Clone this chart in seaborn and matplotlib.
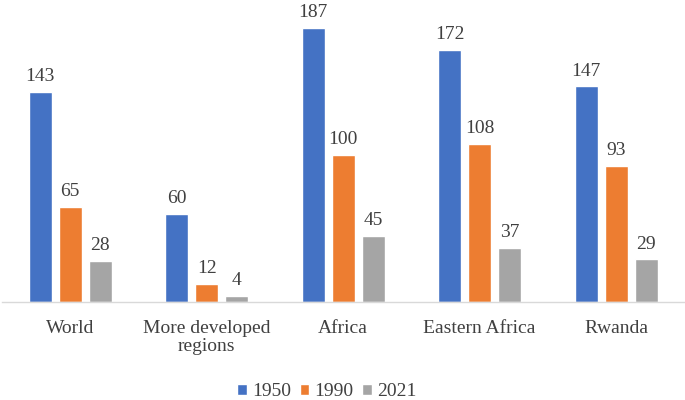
import pandas as pd
import matplotlib
matplotlib.use("Agg")
import matplotlib.pyplot as plt
import seaborn as sns

regions = ["World", "More developed\nregions", "Africa", "Eastern Africa", "Rwanda"]
years = ["1950", "1990", "2021"]
rate_1950 = [143, 60, 187, 172, 147]
rate_1990 = [65, 12, 100, 108, 93]
rate_2021 = [28, 4, 45, 37, 29]
colors = ["#4472C4", "#ED7D31", "#A5A5A5"]

df = pd.DataFrame({
    "region": regions * 3,
    "year": [y for y in years for _ in regions],
    "value": rate_1950 + rate_1990 + rate_2021,
})

sns.set_style("white")
plt.rcParams["font.family"] = ["Liberation Serif", "DejaVu Serif"]
text_color = "#404040"

fig = plt.figure(figsize=(6.85, 4.0), dpi=100)
ax = fig.add_axes([0.003, 0.245, 0.996, 0.755])

sns.barplot(data=df, x="region", y="value", hue="year", palette=colors,
            width=0.66, gap=0.23, ax=ax, legend=True, saturation=1)

for c in ax.containers:
    ax.bar_label(c, padding=5, fontsize=14, color=text_color)

ax.set_ylim(0, 206)
ax.set_xlim(-0.5, 4.5)
ax.set_xlabel("")
ax.set_ylabel("")
ax.set_yticks([])
for s in ["top", "right", "left"]:
    ax.spines[s].set_visible(False)
ax.spines["bottom"].set_color("#D9D9D9")
ax.spines["bottom"].set_linewidth(1)
ax.tick_params(axis="x", length=0, pad=13, labelsize=14, labelcolor=text_color)
for t in ax.get_xticklabels():
    t.set_linespacing(1.1)

handles, labels = ax.get_legend_handles_labels()
ax.get_legend().remove()
fig.legend(handles, labels, loc="center", bbox_to_anchor=(0.477, 0.02),
           ncol=3, frameon=False, fontsize=14, labelcolor=text_color,
           handlelength=0.5, handleheight=0.5, handletextpad=0.25,
           columnspacing=0.45, borderpad=0)

fig.savefig("out.png", dpi=100)
